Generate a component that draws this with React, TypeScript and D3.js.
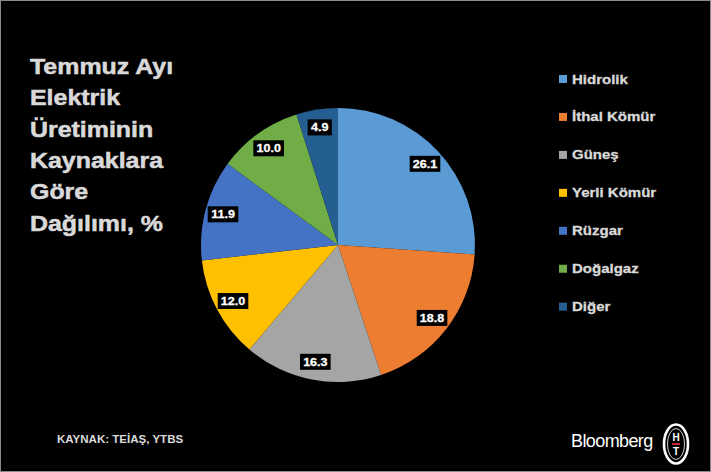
import { useEffect, useRef } from "react"
import * as d3 from "d3"

const categories = ["Hidrolik", "İthal Kömür", "Güneş", "Yerli Kömür", "Rüzgar", "Doğalgaz", "Diğer"]
const shares = [26.1, 18.8, 16.3, 12.0, 11.9, 10.0, 4.9]
const colors = ["#5b9bd5", "#ed7d31", "#a5a5a5", "#ffc000", "#4472c4", "#70ad47", "#255e91"]
const titleLines = ["Temmuz Ayı", "Elektrik", "Üretiminin", "Kaynaklara", "Göre", "Dağılımı, %"]
const sourceText = "KAYNAK: TEİAŞ, YTBS"

const WIDTH = 711
const HEIGHT = 472
const FONT = "'Liberation Sans', Arial, sans-serif"

export default function App() {
  const svgRef = useRef<SVGSVGElement>(null)

  useEffect(() => {
    if (!svgRef.current) return
    const svg = d3.select(svgRef.current)
    svg.selectAll("*").remove()

    // background + thin frame
    svg.append("rect").attr("width", WIDTH).attr("height", HEIGHT).attr("fill", "#000")
    svg
      .append("rect")
      .attr("x", 0.5)
      .attr("y", 0.5)
      .attr("width", WIDTH - 1)
      .attr("height", HEIGHT - 1)
      .attr("fill", "none")
      .attr("stroke", "#8a8a8a")
      .attr("stroke-width", 1)

    // Title
    const title = svg
      .append("g")
      .attr("fill", "#d9d9d9")
      .attr("stroke", "#d9d9d9")
      .attr("stroke-width", 0.5)
      .attr("font-family", FONT)
      .attr("font-weight", "bold")
    titleLines.forEach((t, i) => {
      title
        .append("text")
        .attr("transform", `translate(30,${74 + i * 31.3}) scale(1.16,1)`)
        .attr("font-size", 21.5)
        .text(t)
    })

    // Pie
    const cx = 338
    const cy = 245
    const r = 137
    const data = categories.map((c, i) => ({ name: c, value: shares[i], color: colors[i] }))
    const pie = d3
      .pie<{ name: string; value: number; color: string }>()
      .sort(null)
      .value((d) => d.value)
    const arcs = pie(data)
    const arc = d3.arc<d3.PieArcDatum<{ name: string; value: number; color: string }>>().innerRadius(0).outerRadius(r)
    const labelArc = d3
      .arc<d3.PieArcDatum<{ name: string; value: number; color: string }>>()
      .innerRadius(119)
      .outerRadius(119)

    const g = svg.append("g").attr("transform", `translate(${cx},${cy})`)
    g.selectAll("path")
      .data(arcs)
      .enter()
      .append("path")
      .attr("d", arc)
      .attr("fill", (d) => d.data.color)

    const labels = g
      .selectAll("g.lbl")
      .data(arcs)
      .enter()
      .append("g")
      .attr("class", "lbl")
      .attr("transform", (d) => {
        const [x, y] = labelArc.centroid(d)
        return `translate(${x},${y})`
      })
    labels.each(function (d) {
      const lg = d3.select(this)
      const txt = d.data.value.toFixed(1)
      const w = txt.length * 6.4 + 5
      lg.append("rect")
        .attr("x", -w / 2)
        .attr("y", -8)
        .attr("width", w)
        .attr("height", 16)
        .attr("fill", "#000")
      lg.append("text")
        .attr("transform", "scale(1.14,1)")
        .attr("text-anchor", "middle")
        .attr("dy", "0.36em")
        .attr("fill", "#fff")
        .attr("stroke", "#fff")
        .attr("stroke-width", 0.3)
        .attr("font-family", FONT)
        .attr("font-weight", "bold")
        .attr("font-size", 11)
        .text(txt)
    })

    // Legend
    const legend = svg
      .append("g")
      .attr("font-family", FONT)
      .attr("font-weight", "bold")
      .attr("fill", "#d9d9d9")
      .attr("stroke", "#d9d9d9")
      .attr("stroke-width", 0.3)
    data.forEach((d, i) => {
      const y = 79 + i * 37.95
      legend
        .append("rect")
        .attr("x", 559)
        .attr("y", y - 4)
        .attr("width", 8)
        .attr("height", 8)
        .attr("fill", d.color)
        .attr("stroke", "none")
      legend
        .append("text")
        .attr("transform", `translate(572,${y}) scale(1.2,1)`)
        .attr("dy", "0.36em")
        .attr("font-size", 12.5)
        .text(d.name)
    })

    // Source
    svg
      .append("text")
      .attr("transform", "translate(57,443) scale(1.1,1)")
      .attr("fill", "#d9d9d9")
      .attr("font-family", FONT)
      .attr("font-weight", "bold")
      .attr("font-size", 10.5)
      .text(sourceText)

    // Bloomberg HT logo
    svg
      .append("text")
      .attr("x", 571)
      .attr("y", 447)
      .attr("fill", "#fff")
      .attr("font-family", FONT)
      .attr("font-size", 18)
      .attr("letter-spacing", -0.6)
      .text("Bloomberg")
    const logo = svg.append("g").attr("transform", "translate(676,444)")
    logo.append("ellipse").attr("rx", 12).attr("ry", 19.5).attr("fill", "none").attr("stroke", "#fff").attr("stroke-width", 2.6)
    logo.append("ellipse").attr("rx", 8.5).attr("ry", 15.5).attr("fill", "none").attr("stroke", "#fff").attr("stroke-width", 0.8)
    logo
      .append("text")
      .attr("y", -3)
      .attr("text-anchor", "middle")
      .attr("fill", "#fff")
      .attr("font-family", FONT)
      .attr("font-weight", "bold")
      .attr("font-size", 10)
      .text("H")
    logo.append("rect").attr("x", -4).attr("y", -1).attr("width", 8).attr("height", 2).attr("fill", "#c0272d")
    logo
      .append("text")
      .attr("y", 11)
      .attr("text-anchor", "middle")
      .attr("fill", "#fff")
      .attr("font-family", FONT)
      .attr("font-weight", "bold")
      .attr("font-size", 10)
      .text("T")
  }, [])

  return (
    <svg
      ref={svgRef}
      width={WIDTH}
      height={HEIGHT}
      style={{ position: "absolute", left: 0, top: 0, display: "block" }}
    />
  )
}
